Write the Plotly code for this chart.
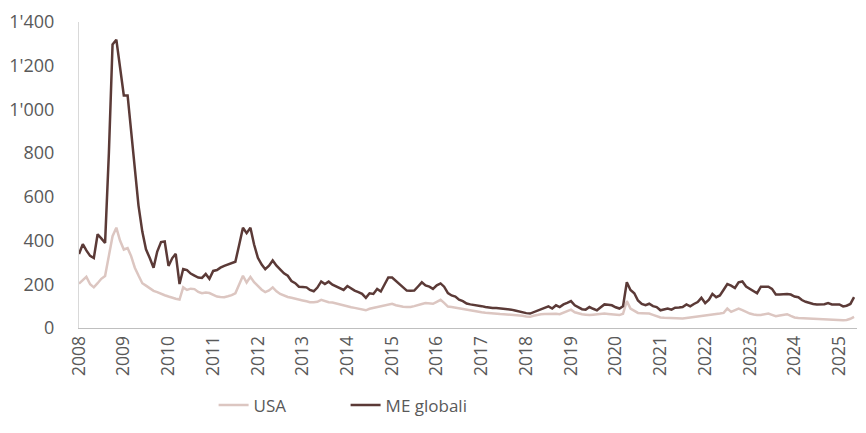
import pandas as pd
import plotly.graph_objects as go

start_month = "2008-01-01"

me_globali = [
    338, 384, 355, 330, 320, 429, 410, 389, 800, 1297, 1319, 1200,
    1064, 1064, 900, 720, 560, 441, 360, 320, 276, 350, 393, 396,
    284, 320, 339, 201, 270, 265, 249, 240, 231, 229, 247, 225,
    261, 265, 276, 284, 290, 299, 303, 380, 459, 434, 459, 382,
    321, 290, 269, 285, 309, 285, 269, 250, 239, 215, 205, 189,
    188, 186, 174, 168, 185, 213, 201, 212, 198, 190, 183, 174,
    192, 180, 171, 164, 156, 138, 159, 156, 179, 167, 200, 231,
    231, 215, 204, 189, 171, 170, 171, 190, 209, 195, 189, 179,
    195, 204, 189, 160, 149, 144, 130, 123, 112, 108, 106, 104,
    100, 96, 93, 92, 91, 90, 89, 87, 84, 80, 75, 71,
    68, 66, 72, 77, 84, 90, 99, 89, 104, 96, 108, 115,
    123, 104, 95, 86, 84, 96, 88, 81, 95, 108, 106, 104,
    95, 89, 99, 209, 174, 159, 126, 110, 104, 111, 100, 96,
    81, 85, 89, 84, 93, 94, 96, 108, 99, 110, 119, 138,
    114, 130, 156, 141, 149, 175, 201, 194, 183, 209, 213, 190,
    178, 168, 159, 189, 189, 189, 179, 153, 153, 154, 156, 153,
    144, 141, 128, 120, 114, 110, 108, 108, 109, 114, 108, 108,
    108, 99, 102, 110, 141,
]

usa = [
    203, 220, 234, 200, 186, 205, 225, 238, 330, 420, 459, 400,
    359, 366, 330, 276, 240, 205, 194, 180, 170, 164, 155, 150,
    144, 137, 134, 130, 186, 174, 180, 178, 165, 159, 162, 160,
    150, 144, 142, 141, 145, 150, 159, 200, 239, 208, 234, 210,
    190, 175, 164, 172, 186, 168, 156, 148, 142, 138, 133, 129,
    126, 122, 118, 118, 120, 129, 122, 118, 117, 112, 108, 104,
    100, 95, 92, 88, 85, 81, 88, 92, 96, 100, 105, 110,
    111, 104, 99, 97, 96, 96, 100, 106, 110, 114, 112, 111,
    120, 129, 115, 98, 96, 93, 88, 84, 81, 78, 76, 74,
    72, 70, 68, 66, 65, 64, 63, 62, 61, 60, 59, 56,
    53, 51, 56, 61, 63, 64, 65, 66, 65, 63, 70, 80,
    84, 72, 66, 63, 61, 59, 61, 63, 65, 66, 64, 62,
    60, 59, 65, 123, 89, 78, 69, 68, 67, 66, 60, 53,
    48, 47, 46, 45, 45, 44, 44, 46, 48, 50, 51, 53,
    56, 59, 62, 63, 66, 69, 89, 74, 80, 89, 82, 74,
    66, 62, 59, 60, 63, 66, 60, 54, 57, 60, 63, 55,
    48, 46, 45, 44, 42, 41, 40, 39, 38, 36, 35, 34,
    33, 35, 37, 42, 51,
]

y_tick_vals = [0, 200, 400, 600, 800, 1000, 1200, 1400]
y_tick_text = ["0", "200", "400", "600", "800", "1'000", "1'200", "1'400"]

dates = pd.date_range(start_month, periods=len(me_globali), freq="MS")

fig = go.Figure()
fig.add_trace(go.Scatter(x=dates, y=usa, name="USA", mode="lines",
                         line=dict(color="#dcc6c1", width=2.5)))
fig.add_trace(go.Scatter(x=dates, y=me_globali, name="ME globali", mode="lines",
                         line=dict(color="#5b3a37", width=2.5)))

font_family = "Open Sans, Noto Sans, sans-serif"
fig.update_layout(
    width=866, height=433,
    margin=dict(l=78, r=9, t=17, b=105),
    paper_bgcolor="white", plot_bgcolor="white",
    font=dict(family=font_family, size=17, color="#595959"),
    showlegend=True,
    legend=dict(orientation="h", x=0.173, xanchor="left", y=-0.253, yanchor="middle",
                font=dict(size=17, color="#595959"), entrywidth=87,
                itemwidth=30, tracegroupgap=0),
)
fig.update_xaxes(
    type="date",
    range=["2008-01-01", "2025-05-25"],
    dtick="M12", tick0="2008-01-01", tickformat="%Y",
    tickangle=-90, showgrid=False, zeroline=False,
    showline=True, linecolor="#bfbfbf", linewidth=1,
    ticks="", tickfont=dict(size=17.5, color="#595959"),
)
fig.update_yaxes(
    range=[0, 1400], tickvals=y_tick_vals, ticktext=y_tick_text,
    showgrid=False, zeroline=False,
    showline=True, linecolor="#d9d9d9", linewidth=1,
    ticks="", ticklabelstandoff=20, tickfont=dict(size=18, color="#595959"),
)

fig.write_html("out.html")
